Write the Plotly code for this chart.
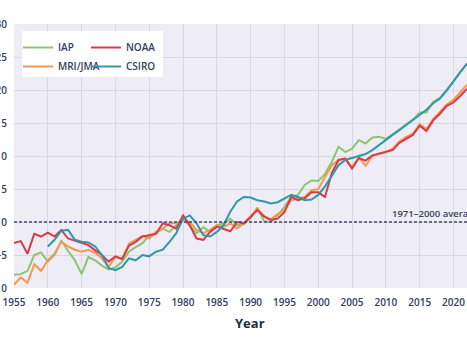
import plotly.graph_objects as go

years = list(range(1955, 2023))
csiro_years = list(range(1960, 2023))

iap = [-8.0, -7.9, -7.4, -5.0, -4.6, -6.0, -5.0, -2.8, -4.4, -5.8,
       -7.9, -5.3, -5.8, -6.6, -7.2, -6.9, -6.0, -4.5, -3.8, -3.2,
       -2.0, -1.7, -1.0, -1.5, -0.5, 0.5, -0.6, -1.7, -0.8, -1.5,
       -0.5, -0.2, 0.5, -0.5, -0.3, 0.6, 2.2, 0.1, 0.0, 1.0,
       2.3, 3.8, 4.1, 5.6, 6.3, 6.2, 7.3, 9.1, 11.4, 10.6,
       11.1, 12.4, 11.9, 12.8, 12.9, 12.6, 13.3, 14.1, 14.8, 15.5,
       16.6, 16.6, 18.2, 18.8, 20.0, 21.3, 22.7, 24.0]

noaa = [-3.2, -2.9, -4.8, -1.8, -2.2, -1.6, -2.2, -1.2, -2.5, -2.8,
        -3.1, -3.5, -4.3, -5.0, -6.0, -5.2, -5.6, -3.6, -3.0, -2.2,
        -2.0, -1.8, -0.2, -0.5, -1.0, 1.0, -0.5, -2.5, -2.7, -1.5,
        -0.7, -1.0, -1.4, 0.0, -0.2, 0.8, 1.8, 0.8, 0.3, 0.5,
        1.5, 3.8, 3.3, 3.6, 4.5, 4.5, 3.8, 7.4, 9.4, 9.6,
        8.1, 9.7, 9.3, 10.1, 10.4, 10.6, 10.9, 12.0, 12.6, 13.2,
        14.6, 13.8, 15.4, 16.4, 17.6, 18.1, 19.1, 20.2]

mri_jma = [-9.5, -8.4, -9.2, -6.4, -7.4, -5.8, -4.8, -3.0, -3.7, -4.2,
           -4.5, -4.2, -4.7, -5.5, -6.8, -5.3, -5.6, -3.3, -2.7, -2.1,
           -2.5, -1.5, -1.0, -0.2, -0.2, 0.3, 0.0, -1.2, -1.7, -1.2,
           -0.5, -0.7, -0.2, -1.0, -0.2, 0.8, 2.0, 0.9, 0.4, 1.2,
           1.8, 3.3, 3.6, 3.8, 4.8, 5.0, 6.8, 8.6, 9.4, 9.6,
           8.3, 9.8, 8.5, 10.0, 10.3, 10.6, 11.1, 12.2, 12.9, 13.4,
           14.8, 14.1, 15.6, 16.7, 17.8, 18.5, 19.6, 20.8]

csiro = [-3.7, -2.7, -1.3, -1.2, -2.7, -3.0, -3.1, -3.7, -5.0, -7.0,
         -7.3, -6.8, -5.5, -5.8, -5.0, -5.2, -4.5, -4.2, -3.0, -1.7,
         0.5, 1.0, -0.2, -2.0, -2.2, -1.5, -0.5, 1.6, 3.1, 3.8,
         3.7, 3.3, 3.1, 2.8, 3.0, 3.6, 4.1, 3.8, 3.3, 3.4,
         4.1, 5.4, 7.1, 8.6, 9.4, 9.7, 10.0, 10.3, 10.9, 11.7,
         12.4, 13.2, 13.9, 14.7, 15.5, 16.2, 17.0, 18.0, 18.7, 19.9,
         21.4, 22.7, 24.0]

y_ticks = [-10, -5, 0, 5, 10, 15, 20, 25, 30]
x_ticks = list(range(1955, 2025, 5))

TXT = "#34405f"
FONT = "Open Sans"

fig = go.Figure()
fig.add_trace(go.Scatter(x=years, y=iap, name="IAP", mode="lines",
                         line=dict(color="#8fc46e", width=2), legend="legend"))
fig.add_trace(go.Scatter(x=years, y=mri_jma, name="MRI/JMA", mode="lines",
                         line=dict(color="#f7964f", width=2), legend="legend"))
fig.add_trace(go.Scatter(x=years, y=noaa, name="NOAA", mode="lines",
                         line=dict(color="#d93a47", width=2), legend="legend2"))
fig.add_trace(go.Scatter(x=csiro_years, y=csiro, name="CSIRO", mode="lines",
                         line=dict(color="#3097ab", width=2), legend="legend2"))

fig.add_hline(y=0, line=dict(color="#3d4a6e", width=1.5, dash="3px,2px"), layer="above")

# white box behind legends
fig.add_shape(type="rect", xref="paper", yref="paper",
              x0=(22 - 14) / 453, x1=(163 - 14) / 453,
              y0=1 - (77 - 24) / 264, y1=1 - (31 - 24) / 264,
              fillcolor="white", line=dict(width=0), layer="above")

legend_common = dict(bgcolor="rgba(0,0,0,0)", borderwidth=0,
                     font=dict(family=FONT, size=10, color=TXT, weight=600),
                     xanchor="left", yanchor="top", tracegroupgap=0,
                     itemwidth=30)
fig.update_layout(
    legend=dict(x=(18 - 14) / 453, y=1 - (33 - 24) / 264, **legend_common),
    legend2=dict(x=(86 - 14) / 453, y=1 - (33 - 24) / 264, **legend_common),
)

fig.add_annotation(text="1971–2000 average", xref="paper", yref="y",
                   x=(390 - 14) / 453, y=1.35, xanchor="left", yanchor="middle",
                   showarrow=False, font=dict(family=FONT, size=9.5, color=TXT, weight=600))

fig.add_annotation(text="<b>Year</b>", xref="paper", yref="paper",
                   x=(250 - 14) / 453, y=-(323 - 288) / 264,
                   xanchor="center", yanchor="middle", showarrow=False,
                   font=dict(family=FONT, size=13, color="#1f2b4a"))

fig.update_xaxes(range=[1955, 2022], tickvals=x_ticks, ticktext=[str(v) for v in x_ticks],
                 showgrid=True, gridcolor="#d8d7e2", gridwidth=1, zeroline=False,
                 ticks="outside", ticklen=5, tickcolor="rgba(0,0,0,0)",
                 tickfont=dict(family=FONT, size=10, color=TXT, weight=600),
                 automargin=False, showline=False)
fig.update_yaxes(range=[-10, 30], tickvals=y_ticks, ticktext=[str(v) for v in y_ticks],
                 showgrid=True, gridcolor="#d8d7e2", gridwidth=1, zeroline=False,
                 ticks="outside", ticklen=4, tickcolor="rgba(0,0,0,0)",
                 tickfont=dict(family=FONT, size=10, color=TXT, weight=600),
                 automargin=False, showline=False)

fig.update_layout(
    width=467, height=350,
    margin=dict(l=14, r=0, t=24, b=62, pad=0),
    paper_bgcolor="white", plot_bgcolor="#eeedf5",
    showlegend=True,
)

fig.write_html("out.html")
